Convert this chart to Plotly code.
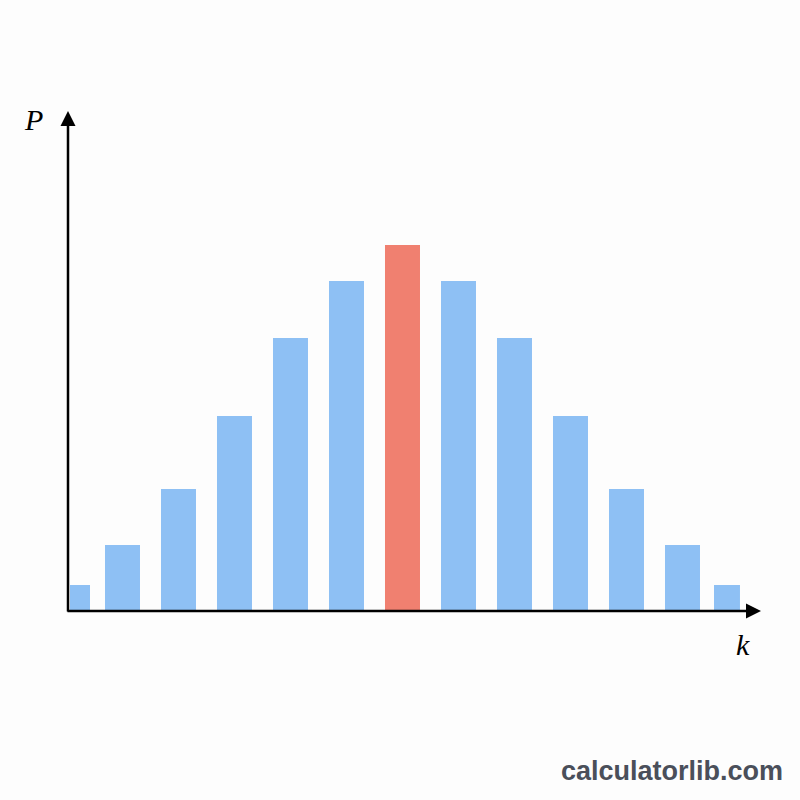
import plotly.graph_objects as go

k_values = list(range(13))
p_values = [0.013, 0.033, 0.061, 0.0975, 0.1365, 0.165, 0.183,
            0.165, 0.1365, 0.0975, 0.061, 0.033, 0.013]
highlight_k = 6

BLUE = "#8ec0f4"
RED = "#f08070"

colors = [RED if k == highlight_k else BLUE for k in k_values]
widths = [0.357] + [0.625] * 11 + [0.464]
offsets = [0.0625] + [-0.3125] * 11 + [-0.4375]

fig = go.Figure()
fig.add_trace(go.Bar(
    x=k_values, y=p_values,
    marker=dict(color=colors, line=dict(width=0)),
    width=widths, offset=offsets,
    hoverinfo="skip",
))

fig.update_layout(
    width=800, height=800,
    margin=dict(l=68, r=39, t=111, b=189),
    paper_bgcolor="#fdfdfd", plot_bgcolor="rgba(0,0,0,0)",
    showlegend=False,
    xaxis=dict(range=[0.027, 12.402], visible=False, fixedrange=True),
    yaxis=dict(range=[0, 0.25], visible=False, fixedrange=True),
    annotations=[
        dict(xref="paper", yref="paper", x=1, y=0, ax=-695, ay=0,
             axref="pixel", ayref="pixel", showarrow=True,
             arrowhead=2, arrowsize=1.2, arrowwidth=2.5, arrowcolor="#000000", text=""),
        dict(xref="paper", yref="paper", x=0, y=1, ax=0, ay=502,
             axref="pixel", ayref="pixel", showarrow=True,
             arrowhead=2, arrowsize=1.2, arrowwidth=2.5, arrowcolor="#000000", text=""),
        dict(xref="paper", yref="paper", x=-0.05, y=1.0, xanchor="center", yanchor="middle",
             yshift=-8, text="<i>P</i>", showarrow=False,
             font=dict(family="Liberation Serif", size=30, color="#000000")),
        dict(xref="paper", yref="paper", x=0.974, y=0, xanchor="center", yanchor="middle",
             yshift=-33, text="<i>k</i>", showarrow=False,
             font=dict(family="Liberation Serif", size=30, color="#000000")),
        dict(xref="paper", yref="paper", x=1.034, y=-0.32, xanchor="right", yanchor="middle",
             text="<b>calculatorlib.com</b>", showarrow=False,
             font=dict(family="Liberation Sans", size=27, color="#4a4f5a")),
    ],
)

fig.write_html("out.html")
